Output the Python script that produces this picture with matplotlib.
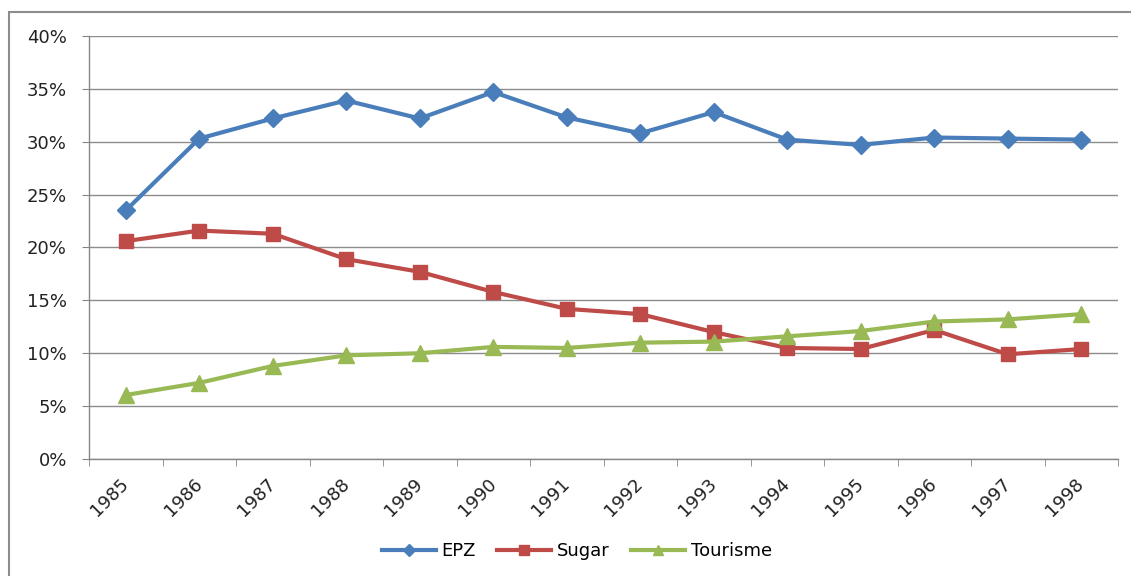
import numpy as np
import matplotlib.pyplot as plt
from matplotlib.patches import Rectangle

years = ['1985', '1986', '1987', '1988', '1989', '1990', '1991',
         '1992', '1993', '1994', '1995', '1996', '1997', '1998']
epz = [23.5, 30.3, 32.2, 33.9, 32.2, 34.7, 32.3, 30.8, 32.8, 30.2, 29.7, 30.4, 30.3, 30.2]
sugar = [20.6, 21.6, 21.3, 18.9, 17.7, 15.8, 14.2, 13.7, 12.0, 10.5, 10.4, 12.2, 9.9, 10.4]
tourisme = [6.05, 7.2, 8.8, 9.8, 10.0, 10.6, 10.5, 11.0, 11.1, 11.6, 12.1, 13.0, 13.2, 13.7]

plt.rcParams['font.family'] = ['DejaVu Sans']

fig = plt.figure(figsize=(11.31, 5.76), dpi=100)
ax = fig.add_axes([89 / 1131, 1 - 459 / 576, 1029 / 1131, 423 / 576])

# outer chart frame
fig.patches.append(Rectangle((9 / 1131, -0.1), 1.2, 1 - 12 / 576 + 0.1,
                             transform=fig.transFigure, fill=False,
                             edgecolor='#8c8c8c', linewidth=1.5))

x = np.arange(len(years))
ax.plot(x, epz, color='#4A7EBB', lw=3, marker='D', ms=9, label='EPZ')
ax.plot(x, sugar, color='#BE4B48', lw=3, marker='s', ms=10, label='Sugar')
ax.plot(x, tourisme, color='#98B954', lw=3, marker='^', ms=11, label='Tourisme')

ax.set_xlim(-0.5, len(years) - 0.5)
ax.set_ylim(0, 40)
ax.set_yticks(np.arange(0, 41, 5))
ax.set_yticklabels([f'{v}%' for v in range(0, 41, 5)], fontsize=13, color='#222222')
ax.set_xticks(x)
ax.set_xticklabels(years, rotation=45, fontsize=13, color='#222222',
                   ha='right', va='center', rotation_mode='anchor')
ax.set_xticks(np.arange(-0.5, len(years)), minor=True)
ax.tick_params(axis='x', which='major', length=0, pad=16)
ax.tick_params(axis='x', which='minor', length=5, color='#868686')
ax.tick_params(axis='y', length=5, color='#868686', pad=11)
ax.grid(axis='y', color='#8c8c8c', lw=1)
ax.set_axisbelow(True)
for s in ['top', 'right']:
    ax.spines[s].set_visible(False)
for s in ['left', 'bottom']:
    ax.spines[s].set_color('#868686')
    ax.spines[s].set_linewidth(1)

leg = fig.legend(loc='center', bbox_to_anchor=(0.51, 1 - 551 / 576), ncol=3, frameon=False,
                 fontsize=13, handlelength=3, columnspacing=1.2, handletextpad=0.3,
                 markerscale=0.7)

fig.savefig('out.png', dpi=100)
